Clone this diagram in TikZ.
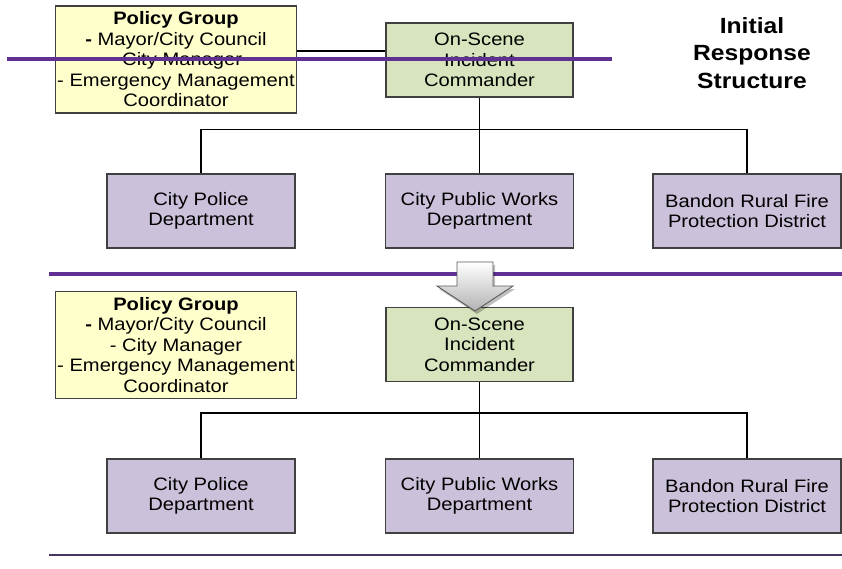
\documentclass[tikz,border=0pt]{standalone}
\usepackage{fontspec}
\setmainfont{Liberation Sans}[FakeStretch=1.12]
\usetikzlibrary{positioning}
\definecolor{policyfill}{HTML}{FFFFCC}
\definecolor{cmdfill}{HTML}{D7E4BD}
\definecolor{deptfill}{HTML}{CCC1DA}
\definecolor{rulepurple}{RGB}{96,48,146}
\definecolor{ruledark}{RGB}{70,52,98}
\definecolor{boxedge}{gray}{0.25}
\tikzset{
  basebox/.style={rectangle, draw=boxedge, line width=1.1pt, inner sep=0pt,
    align=center, text=black, font={\fontsize{18}{20.5}\selectfont}},
  policybox/.style={basebox, fill=policyfill, minimum width=241pt, minimum height=107pt},
  cmdbox/.style={basebox, fill=cmdfill, minimum width=187pt, minimum height=74pt},
  deptbox/.style={basebox, fill=deptfill, minimum width=188pt, minimum height=74pt},
  link/.style={draw=black, line width=1.3pt},
  bandrule/.style={draw=rulepurple, line width=3.2pt},
  endrule/.style={draw=ruledark, line width=1.8pt},
  titletext/.style={align=center, font={\fontsize{22}{27.5}\selectfont\bfseries}},
}
\newcommand{\policytext}{\textbf{Policy Group}\\\textbf{-} Mayor/City Council\\- City Manager\\- Emergency Management\\Coordinator}
\begin{document}
\begin{tikzpicture}[x=1pt, y=-1pt]
\useasboundingbox (0,0) rectangle (842,568);

% ---- initial response structure ----
\node[policybox] (pol1) at (176,59.5) {\policytext};
\node[cmdbox] (ic1) at (479.5,60) {On-Scene\\Incident\\Commander};
\node[deptbox] (pd1) at (201,211) {City Police\\Department};
\node[deptbox] (pw1) at (479.5,211) {City Public Works\\Department};
\node[deptbox] (bf1) at (747,211) {Bandon Rural Fire\\Protection District};
\node[titletext] (title) at (752,53) {Initial\\Response\\Structure};

\draw[link] ([yshift=8.5pt]pol1.east) coordinate (p1) -- (p1 -| ic1.west);
\coordinate (j1) at ([yshift=-32pt]ic1.south);
\draw[link] (ic1.south) -- (pw1.north);
\draw[link] (pd1.north) |- (j1) -| (bf1.north);

% ---- expanded structure ----
\node[policybox] (pol2) at (176,345) {\policytext};
\node[cmdbox] (ic2) at (479.5,344.5) {On-Scene\\Incident\\Commander};
\node[deptbox] (pd2) at (201,496) {City Police\\Department};
\node[deptbox] (pw2) at (479.5,496) {City Public Works\\Department};
\node[deptbox] (bf2) at (747,496) {Bandon Rural Fire\\Protection District};

\coordinate (j2) at ([yshift=-31pt]ic2.south);
\draw[link] (ic2.south) -- (pw2.north);
\draw[link] (pd2.north) |- (j2) -| (bf2.north);

% ---- horizontal rules ----
\coordinate (r1a) at (7,59);   \coordinate (r1b) at (612,59);
\coordinate (r2a) at (49,274); \coordinate (r2b) at (842,274);
\coordinate (r3a) at (49,555); \coordinate (r3b) at (842,555);
\draw[bandrule] (r1a) -- (r1b);
\draw[bandrule] (r2a) -- (r2b);
\draw[endrule] (r3a) -- (r3b);

% ---- transition arrow ----
\fill[black, opacity=0.25]
  (459,265) -- (495,265) -- (495,289) -- (515,289) -- (477,314) -- (439,289) -- (459,289) -- cycle;
\shade[top color=white, bottom color=black!30, draw=black!65, line width=0.9pt]
  (457,262) -- (493,262) -- (493,286) -- (513,286) -- (475,311) -- (437,286) -- (457,286) -- cycle;
\end{tikzpicture}
\end{document}
